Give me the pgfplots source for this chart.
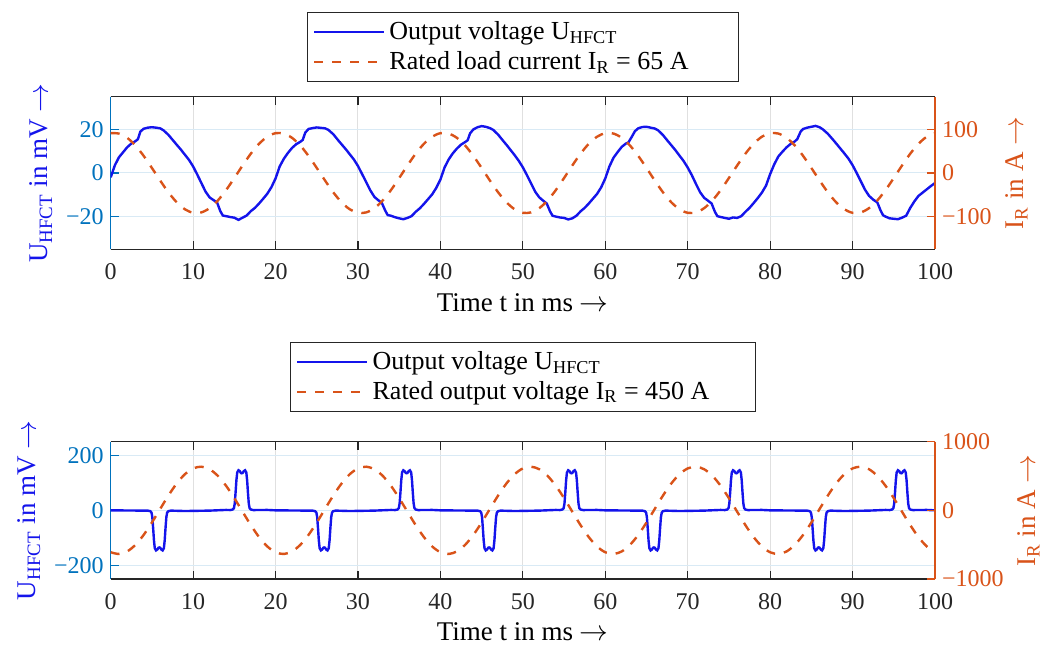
\documentclass[border=0pt]{standalone}
\usepackage{fontspec}
\setmainfont{Liberation Serif}
\usepackage{pgfplots}
\pgfplotsset{compat=1.18}

\definecolor{mblue}{RGB}{0,114,189}
\definecolor{morange}{RGB}{217,83,25}
\definecolor{mgray}{RGB}{38,38,38}
\definecolor{lineblue}{RGB}{20,20,235}

\pgfplotsset{
  twin/.style={
    scale only axis, width=412.15pt,
    xmin=0, xmax=100, xtick={0,10,...,100},
    tick align=inside, major tick length=4pt,
    /pgf/number format/assume math mode=true,
    tick label style={font=\fontsize{12}{14}\selectfont},
    label style={font=\fontsize{13.5}{16}\selectfont},
    axis line style={line width=0.7pt},
  },
  leftax/.style={twin,
    axis y line*=left,
    x axis line style={mgray}, x tick style={mgray, line width=0.6pt},
    xticklabel style={mgray, yshift=-3.5pt},
    xlabel style={yshift=0pt},
    y axis line style={mblue}, y tick style={mblue, line width=0.6pt},
    yticklabel style={mblue},
    ylabel style={lineblue},
    xmajorgrids, ymajorgrids,
    x grid style={black!12, line width=0.5pt},
    y grid style={mblue!15, line width=0.5pt},
    xlabel={Time t in ms $\rightarrow$},
    ylabel={U\textsubscript{HFCT} in mV $\rightarrow$},
    legend cell align=left,
    legend image code/.code={\draw[#1] (0pt,0pt) -- (35pt,0pt);},
  },
  rightax/.style={twin,
    axis y line*=right, axis x line=none,
    y axis line style={morange}, y tick style={morange, line width=0.6pt},
    yticklabel style={morange}, ylabel style={morange},
    ylabel={I\textsubscript{R} in A $\rightarrow$},
  },
  ucurve/.style={lineblue, line width=1.2pt},
  icurve/.style={morange, line width=1.2pt, dash pattern=on 4.5pt off 4.5pt},
  leg/.style={legend style={at={(0.5,1)}, anchor=south, yshift=#1, draw=mgray,
    font=\fontsize{13}{15.5}\selectfont, inner xsep=3pt, inner ysep=2.5pt,
    row sep=0.5pt}},
}

\begin{document}
\begin{tikzpicture}
\path[use as bounding box] (0,0) rectangle (525.5pt,323.5pt);

% ---------- top: 65 A ----------
\begin{axis}[leftax, at={(55.35pt,198.85pt)}, anchor=south west, height=76.3pt,
  ymin=-35, ymax=35, ytick={-20,0,20}, yticklabels={−20,0,20}, leg=7.3pt]
\addplot[ucurve] coordinates {
(0,-2) (0.5,3.5) (1,7.2) (1.5,9.5) (2,11.8) (2.5,13.5) (3,14.6) (3.3,15.5) (3.6,19) (4,20.3)
(4.5,20.8) (5,21) (5.5,20.8) (6,20.5) (6.4,19.6) (7,17.5) (7.6,14.8) (8,13) (8.5,10.8) (9,8.4)
(9.5,6) (10,3) (10.5,-0.7) (11,-4.6) (11.5,-8.5) (12,-11.2) (12.5,-12.5) (12.9,-13.5) (13.3,-17.5)
(13.6,-19.5) (14,-19.8) (14.5,-20.2) (15,-20.5) (15.5,-21.5) (16,-20.5) (16.5,-19.5) (17,-17.5)
(17.5,-16) (18,-14) (18.5,-11.8) (19,-9.5) (19.5,-6.5)
(20,-2.5) (20.5,3) (21,6.5) (21.5,9.2) (22,11.5) (22.5,13.2) (23,14.3) (23.3,15.2) (23.6,18.5)
(24,20.2) (24.5,20.6) (25,20.9) (25.5,20.7) (26,20.5) (26.4,19.8) (27,17.8) (27.6,15) (28,13.2)
(28.5,11) (29,8.6) (29.5,6.2) (30,3.2) (30.5,-0.5) (31,-4.2) (31.5,-8) (32,-11) (32.5,-12.6)
(32.9,-13.8) (33.3,-17.2) (33.6,-19.3) (34,-19.6) (34.5,-20.3) (35,-20.8) (35.5,-21.2) (36,-20.6)
(36.5,-19.8) (37,-17.8) (37.5,-16.2) (38,-14.2) (38.5,-12) (39,-9.8) (39.5,-6.8)
(40,-3) (40.5,2.5) (41,6.2) (41.5,9) (42,11.2) (42.5,13) (43,14.2) (43.3,15) (43.6,18.2) (44,20)
(44.5,21) (45,21.5) (45.5,21.2) (46,20.6) (46.4,19.8) (47,17.6) (47.6,14.8) (48,13) (48.5,10.6)
(49,8.2) (49.5,5.6) (50,2.6) (50.5,-1) (51,-4.8) (51.5,-8.6) (52,-11.2) (52.5,-12.8) (52.9,-14)
(53.3,-17.6) (53.6,-19.6) (54,-20) (54.5,-20.4) (55,-20.6) (55.5,-21.3) (56,-20.8) (56.5,-19.6)
(57,-17.6) (57.5,-16) (58,-14) (58.5,-11.8) (59,-9.6) (59.5,-6.6)
(60,-2.5) (60.5,3) (61,7) (61.5,9.6) (62,12) (62.5,13.5) (62.8,14) (63.2,16.5) (63.6,19.2) (64,20.5)
(64.5,21.1) (65,21.2) (65.5,20.8) (66,20.4) (66.4,19.6) (67,17.4) (67.6,14.6) (68,12.8) (68.5,10.5)
(69,8) (69.5,5.5) (70,2.5) (70.5,-1) (71,-5) (71.5,-8.8) (72,-11.4) (72.5,-12.8) (72.9,-14)
(73.3,-17.8) (73.6,-19.8) (74,-20.2) (74.5,-20.6) (75,-21) (75.5,-20.4) (76,-20.6) (76.5,-19.8)
(77,-17.8) (77.5,-16) (78,-13.8) (78.5,-11.5) (79,-9) (79.5,-5.8)
(80,-0.5) (80.5,4) (81,7.6) (81.5,9.8) (82,11.8) (82.5,13.4) (83,14.5) (83.3,15.6) (83.7,19) (84,20.2)
(84.5,20.8) (85,21.2) (85.5,21.6) (86,21) (86.4,20) (87,18) (87.6,15.4) (88,13.6) (88.5,11.3) (89,9)
(89.5,6.6) (90,3.6) (90.5,0) (91,-3.8) (91.5,-7.6) (92,-10.5) (92.5,-12.2) (93,-13.5) (93.4,-17.2)
(93.7,-19.4) (94,-20) (94.5,-20.8) (95,-21) (95.5,-21.2) (96,-20.5) (96.5,-19.6) (97,-16)
(97.5,-13) (98,-10.5) (98.5,-9) (99,-7.5) (99.5,-6) (100,-4.6)
};
\addlegendentry{Output voltage U\textsubscript{HFCT}}
\addlegendimage{icurve}
\addlegendentry{Rated load current I\textsubscript{R} = 65 A\rule{20pt}{0pt}}
\end{axis}
\begin{axis}[rightax, at={(55.35pt,198.85pt)}, anchor=south west, height=76.3pt,
  ymin=-175, ymax=175, ytick={-100,0,100}, yticklabels={−100,0,100}]
\addplot[icurve, smooth] coordinates {
(0,91.3) (1,90.4) (2,80.6) (3,63.0) (4,39.2) (5,11.5) (6,-17.2) (7,-44.3) (8,-67.0) (9,-83.2)
(10,-91.3) (11,-90.4) (12,-80.6) (13,-63.0) (14,-39.2) (15,-11.5) (16,17.2) (17,44.3) (18,67.0) (19,83.2)
(20,91.3) (21,90.4) (22,80.6) (23,63.0) (24,39.2) (25,11.5) (26,-17.2) (27,-44.3) (28,-67.0) (29,-83.2)
(30,-91.3) (31,-90.4) (32,-80.6) (33,-63.0) (34,-39.2) (35,-11.5) (36,17.2) (37,44.3) (38,67.0) (39,83.2)
(40,91.3) (41,90.4) (42,80.6) (43,63.0) (44,39.2) (45,11.5) (46,-17.2) (47,-44.3) (48,-67.0) (49,-83.2)
(50,-91.3) (51,-90.4) (52,-80.6) (53,-63.0) (54,-39.2) (55,-11.5) (56,17.2) (57,44.3) (58,67.0) (59,83.2)
(60,91.3) (61,90.4) (62,80.6) (63,63.0) (64,39.2) (65,11.5) (66,-17.2) (67,-44.3) (68,-67.0) (69,-83.2)
(70,-91.3) (71,-90.4) (72,-80.6) (73,-63.0) (74,-39.2) (75,-11.5) (76,17.2) (77,44.3) (78,67.0) (79,83.2)
(80,91.3) (81,90.4) (82,80.6) (83,63.0) (84,39.2) (85,11.5) (86,-17.2) (87,-44.3) (88,-67.0) (89,-83.2)
(90,-91.3) (91,-90.4) (92,-80.6) (93,-63.0) (94,-39.2) (95,-11.5) (96,17.2) (97,44.3) (98,67.0) (99,83.2)
(100,91.3)
};
\end{axis}

% ---------- bottom: 450 A ----------
\begin{axis}[leftax, at={(55.35pt,34pt)}, anchor=south west, height=68.65pt,
  ymin=-250, ymax=250, ytick={-200,0,200}, yticklabels={−200,0,200}, leg=15pt]
\addplot[ucurve] coordinates {
(0,0) (2,-0.5) (4,-1)
(4.5,-1) (4.8,-3) (4.95,-8) (5.05,-25) (5.15,-65) (5.25,-110) (5.35,-138) (5.5,-146) (5.65,-143) (5.8,-136)
(5.9,-135) (6.0,-136) (6.15,-143) (6.3,-146) (6.45,-138) (6.55,-110) (6.65,-65) (6.75,-25) (6.85,-8) (7.0,-3) (7.3,-1)
(9,-2.5) (12,-1) (14,1.5)
(14.5,1) (14.8,3) (14.95,8) (15.05,25) (15.15,65) (15.25,110) (15.35,138) (15.5,146) (15.65,143) (15.8,136)
(15.9,135) (16.0,136) (16.15,143) (16.3,146) (16.45,138) (16.55,110) (16.65,65) (16.75,25) (16.85,8) (17.0,3) (17.3,1)
(19,1.5) (20,0) (22,-0.5) (24,-1)
(24.5,-1) (24.8,-3) (24.95,-8) (25.05,-25) (25.15,-65) (25.25,-110) (25.35,-138) (25.5,-146) (25.65,-143) (25.8,-136)
(25.9,-135) (26.0,-136) (26.15,-143) (26.3,-146) (26.45,-138) (26.55,-110) (26.65,-65) (26.75,-25) (26.85,-8) (27.0,-3) (27.3,-1)
(29,-2.5) (32,-1) (34,1.5)
(34.5,1) (34.8,3) (34.95,8) (35.05,25) (35.15,65) (35.25,110) (35.35,138) (35.5,146) (35.65,143) (35.8,136)
(35.9,135) (36.0,136) (36.15,143) (36.3,146) (36.45,138) (36.55,110) (36.65,65) (36.75,25) (36.85,8) (37.0,3) (37.3,1)
(39,1.5) (40,0) (42,-0.5) (44,-1)
(44.5,-1) (44.8,-3) (44.95,-8) (45.05,-25) (45.15,-65) (45.25,-110) (45.35,-138) (45.5,-146) (45.65,-143) (45.8,-136)
(45.9,-135) (46.0,-136) (46.15,-143) (46.3,-146) (46.45,-138) (46.55,-110) (46.65,-65) (46.75,-25) (46.85,-8) (47.0,-3) (47.3,-1)
(49,-2.5) (52,-1) (54,1.5)
(54.5,1) (54.8,3) (54.95,8) (55.05,25) (55.15,65) (55.25,110) (55.35,138) (55.5,146) (55.65,143) (55.8,136)
(55.9,135) (56.0,136) (56.15,143) (56.3,146) (56.45,138) (56.55,110) (56.65,65) (56.75,25) (56.85,8) (57.0,3) (57.3,1)
(59,1.5) (60,0) (62,-0.5) (64,-1)
(64.5,-1) (64.8,-3) (64.95,-8) (65.05,-25) (65.15,-65) (65.25,-110) (65.35,-138) (65.5,-146) (65.65,-143) (65.8,-136)
(65.9,-135) (66.0,-136) (66.15,-143) (66.3,-146) (66.45,-138) (66.55,-110) (66.65,-65) (66.75,-25) (66.85,-8) (67.0,-3) (67.3,-1)
(69,-2.5) (72,-1) (74,1.5)
(74.5,1) (74.8,3) (74.95,8) (75.05,25) (75.15,65) (75.25,110) (75.35,138) (75.5,146) (75.65,143) (75.8,136)
(75.9,135) (76.0,136) (76.15,143) (76.3,146) (76.45,138) (76.55,110) (76.65,65) (76.75,25) (76.85,8) (77.0,3) (77.3,1)
(79,1.5) (80,0) (82,-0.5) (84,-1)
(84.5,-1) (84.8,-3) (84.95,-8) (85.05,-25) (85.15,-65) (85.25,-110) (85.35,-138) (85.5,-146) (85.65,-143) (85.8,-136)
(85.9,-135) (86.0,-136) (86.15,-143) (86.3,-146) (86.45,-138) (86.55,-110) (86.65,-65) (86.75,-25) (86.85,-8) (87.0,-3) (87.3,-1)
(89,-2.5) (92,-1) (94,1.5)
(94.5,1) (94.8,3) (94.95,8) (95.05,25) (95.15,65) (95.25,110) (95.35,138) (95.5,146) (95.65,143) (95.8,136)
(95.9,135) (96.0,136) (96.15,143) (96.3,146) (96.45,138) (96.55,110) (96.65,65) (96.75,25) (96.85,8) (97.0,3) (97.3,1)
(99,1.5) (100,0)
};
\addlegendentry{Output voltage U\textsubscript{HFCT}}
\addlegendimage{icurve}
\addlegendentry{Rated output voltage I\textsubscript{R} = 450 A\rule{18pt}{0pt}}
\end{axis}
\begin{axis}[rightax, at={(55.35pt,34pt)}, anchor=south west, height=68.65pt,
  ymin=-1000, ymax=1000, ytick={-1000,0,1000}, yticklabels={−1000,0,1000}]
\addplot[icurve, smooth] coordinates {
(0,-610.6) (1,-635.7) (2,-598.4) (3,-502.6) (4,-357.5) (5,-177.4) (6,20.0) (7,215.4) (8,389.8) (9,526.0)
(10,610.6) (11,635.7) (12,598.4) (13,502.6) (14,357.5) (15,177.4) (16,-20.0) (17,-215.4) (18,-389.8) (19,-526.0)
(20,-610.6) (21,-635.7) (22,-598.4) (23,-502.6) (24,-357.5) (25,-177.4) (26,20.0) (27,215.4) (28,389.8) (29,526.0)
(30,610.6) (31,635.7) (32,598.4) (33,502.6) (34,357.5) (35,177.4) (36,-20.0) (37,-215.4) (38,-389.8) (39,-526.0)
(40,-610.6) (41,-635.7) (42,-598.4) (43,-502.6) (44,-357.5) (45,-177.4) (46,20.0) (47,215.4) (48,389.8) (49,526.0)
(50,610.6) (51,635.7) (52,598.4) (53,502.6) (54,357.5) (55,177.4) (56,-20.0) (57,-215.4) (58,-389.8) (59,-526.0)
(60,-610.6) (61,-635.7) (62,-598.4) (63,-502.6) (64,-357.5) (65,-177.4) (66,20.0) (67,215.4) (68,389.8) (69,526.0)
(70,610.6) (71,635.7) (72,598.4) (73,502.6) (74,357.5) (75,177.4) (76,-20.0) (77,-215.4) (78,-389.8) (79,-526.0)
(80,-610.6) (81,-635.7) (82,-598.4) (83,-502.6) (84,-357.5) (85,-177.4) (86,20.0) (87,215.4) (88,389.8) (89,526.0)
(90,610.6) (91,635.7) (92,598.4) (93,502.6) (94,357.5) (95,177.4) (96,-20.0) (97,-215.4) (98,-389.8) (99,-526.0)
(100,-610.6)
};
\end{axis}
\end{tikzpicture}
\end{document}
